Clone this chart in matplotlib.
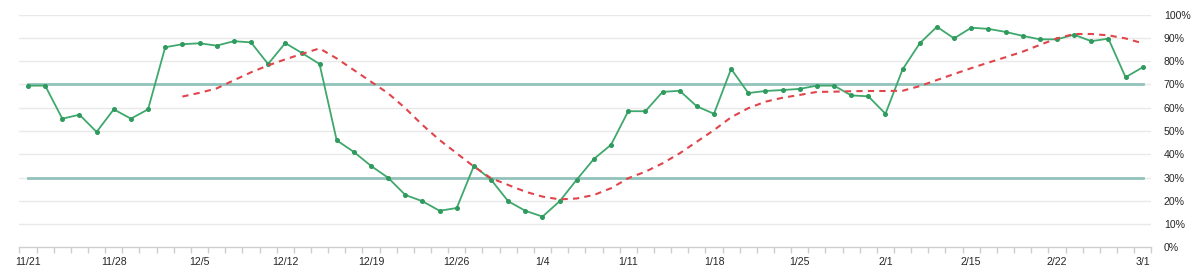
import matplotlib
matplotlib.use("Agg")
import matplotlib.pyplot as plt
import numpy as np

plt.rcParams['font.family'] = ['Liberation Sans', 'DejaVu Sans']

values = [69.5, 69.5, 55.3, 57.0, 49.6, 59.3, 55.3, 59.3, 86.0, 87.3,
          87.7, 86.7, 88.6, 88.1, 78.8, 87.8, 83.4, 78.8, 46.0, 41.0,
          35.0, 29.9, 22.5, 19.8, 15.7, 16.9, 35.0, 29.1, 19.8, 15.7,
          13.2, 19.8, 29.1, 38.0, 44.1, 58.5, 58.5, 66.8, 67.3, 60.6,
          57.4, 76.7, 66.3, 67.2, 67.6, 68.1, 69.5, 69.5, 65.3, 64.9,
          57.4, 76.5, 87.7, 94.8, 89.8, 94.4, 93.9, 92.6, 90.9, 89.4,
          89.4, 91.4, 88.6, 89.7, 73.1, 77.4]

moving_avg = [None] * 9 + [
    64.8, 66.4, 68.3, 71.8, 75.2, 78.2, 80.8, 83.2, 85.5, 81.2,
    76.2, 71.2, 66.2, 59.8, 52.6, 46.1, 40.4, 34.7, 29.7, 26.8,
    23.9, 21.8, 20.6, 21.0, 22.5, 25.4, 29.7, 32.5, 36.1, 40.4,
    45.4, 50.4, 55.9, 59.8, 62.6, 64.3, 65.5, 66.8, 66.9, 67.1,
    67.2, 67.2, 67.3, 69.3, 71.9, 74.5, 77.0, 79.4, 81.7, 84.1,
    87.0, 89.8, 91.7, 91.7, 91.1, 89.8, 87.7]

upper_level = 70
lower_level = 30

tick_labels = ['11/21', '11/28', '12/5', '12/12', '12/19', '12/26', '1/4',
               '1/11', '1/18', '1/25', '2/1', '2/15', '2/22', '3/1']
label_step = 5

n = len(values)
x = np.arange(n)
ma = np.array([np.nan if v is None else v for v in moving_avg], dtype=float)

fig = plt.figure(figsize=(12, 2.77), dpi=100)
ax = fig.add_axes([0.0162, 0.1072, 0.9432, 0.8398])

ax.set_xlim(-0.5, n - 0.5)
ax.set_ylim(0, 100)

for g in range(10, 101, 10):
    ax.axhline(g, color='#e9e9e9', lw=1.0, zorder=0)

ax.plot([x[0], x[-1]], [upper_level, upper_level], color='#92c3bb', lw=2.0, zorder=1)
ax.plot([x[0], x[-1]], [lower_level, lower_level], color='#92c3bb', lw=2.0, zorder=1)

ax.plot(x, values, color='#3fa86c', lw=1.3, marker='o', markersize=2.6,
        markerfacecolor='#2e9a5e', markeredgecolor='#2e9a5e', zorder=3)
ax.plot(x, ma, color='#e0454b', lw=1.5, ls=(0, (3, 2.5)), zorder=4)

for s in ['top', 'left', 'right']:
    ax.spines[s].set_visible(False)
ax.spines['bottom'].set_color('#cfcfcf')
ax.spines['bottom'].set_linewidth(1.0)

ax.set_xticks(np.arange(-0.5, n, 1.0), minor=True)
ax.set_xticks(np.arange(0, n, label_step))
ax.set_xticklabels(tick_labels)
ax.tick_params(axis='x', which='major', length=0, pad=7, labelsize=7.6, labelcolor='#262626')
ax.tick_params(axis='x', which='minor', length=4, color='#cfcfcf', width=1.0)

ax.yaxis.tick_right()
ax.set_yticks(range(0, 101, 10))
ax.set_yticklabels([f'{v}%' for v in range(0, 101, 10)])
ax.tick_params(axis='y', length=0, pad=9, labelsize=7.6, labelcolor='#262626')

fig.savefig('out.png', dpi=100, facecolor='white')
